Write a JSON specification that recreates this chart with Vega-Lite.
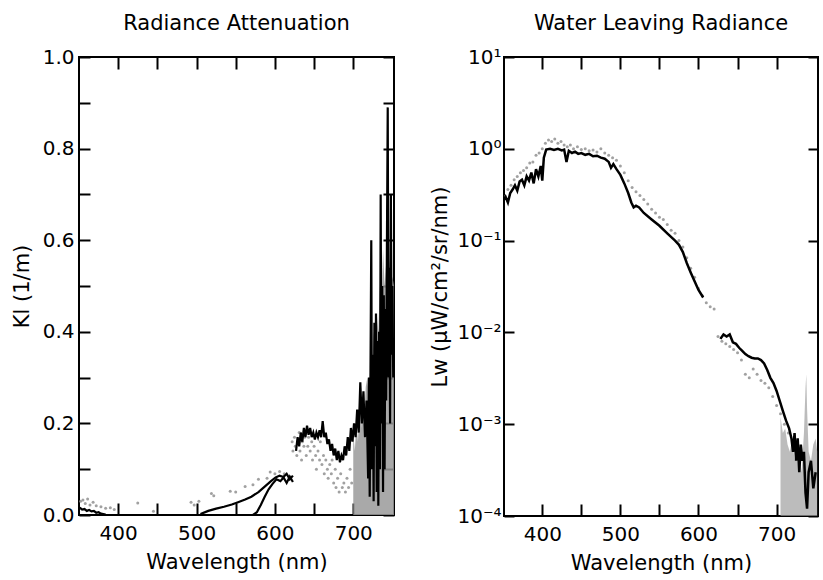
{
  "$schema": "https://vega.github.io/schema/vega-lite/v6.json",
  "background": "white",
  "padding": {"left": 10, "top": 12, "right": 0, "bottom": 0},
  "spacing": 32,
  "datasets": {
    "kl_lines": [
      {"s":"A","wl":505,"v":0.002},{"s":"A","wl":515,"v":0.009},{"s":"A","wl":525,"v":0.014},{"s":"A","wl":535,"v":0.018},{"s":"A","wl":545,"v":0.023},{"s":"A","wl":553,"v":0.028},{"s":"A","wl":562,"v":0.034},{"s":"A","wl":570,"v":0.04},{"s":"A","wl":579,"v":0.05},{"s":"A","wl":587,"v":0.062},{"s":"A","wl":595,"v":0.074},{"s":"A","wl":601,"v":0.082},{"s":"A","wl":606,"v":0.086},{"s":"A","wl":611,"v":0.083},{"s":"A","wl":615,"v":0.09},{"s":"A","wl":619,"v":0.078},{"s":"A","wl":623,"v":0.086},
      {"s":"B","wl":572,"v":0},{"s":"B","wl":577,"v":0.006},{"s":"B","wl":582,"v":0.022},{"s":"B","wl":587,"v":0.04},{"s":"B","wl":592,"v":0.056},{"s":"B","wl":597,"v":0.068},{"s":"B","wl":602,"v":0.078},{"s":"B","wl":607,"v":0.074},{"s":"B","wl":611,"v":0.082},{"s":"B","wl":615,"v":0.07},{"s":"B","wl":619,"v":0.084},{"s":"B","wl":623,"v":0.072},
      {"s":"C","wl":351,"v":0.016},{"s":"C","wl":354,"v":0.012},{"s":"C","wl":357,"v":0.013},{"s":"C","wl":360,"v":0.009},{"s":"C","wl":363,"v":0.011},{"s":"C","wl":366,"v":0.008},{"s":"C","wl":369,"v":0.009},{"s":"C","wl":372,"v":0.005},{"s":"C","wl":375,"v":0.006},{"s":"C","wl":378,"v":0.003},{"s":"C","wl":381,"v":0.002},{"s":"C","wl":384,"v":0.001},
      {"s":"D","wl":627,"v":0.14},{"s":"D","wl":629,"v":0.17},{"s":"D","wl":631,"v":0.15},{"s":"D","wl":633,"v":0.18},{"s":"D","wl":635,"v":0.16},{"s":"D","wl":637,"v":0.19},{"s":"D","wl":639,"v":0.17},{"s":"D","wl":641,"v":0.195},{"s":"D","wl":643,"v":0.175},{"s":"D","wl":645,"v":0.19},{"s":"D","wl":647,"v":0.17},{"s":"D","wl":649,"v":0.18},{"s":"D","wl":651,"v":0.165},{"s":"D","wl":653,"v":0.18},{"s":"D","wl":655,"v":0.17},{"s":"D","wl":657,"v":0.185},{"s":"D","wl":659,"v":0.17},{"s":"D","wl":661,"v":0.205},{"s":"D","wl":663,"v":0.17},{"s":"D","wl":665,"v":0.18},{"s":"D","wl":667,"v":0.155},{"s":"D","wl":669,"v":0.165},{"s":"D","wl":671,"v":0.14},{"s":"D","wl":673,"v":0.155},{"s":"D","wl":675,"v":0.13},{"s":"D","wl":677,"v":0.145},{"s":"D","wl":679,"v":0.12},{"s":"D","wl":681,"v":0.14},{"s":"D","wl":683,"v":0.115},{"s":"D","wl":685,"v":0.13},{"s":"D","wl":687,"v":0.12},{"s":"D","wl":689,"v":0.15},{"s":"D","wl":691,"v":0.13},{"s":"D","wl":693,"v":0.17},{"s":"D","wl":695,"v":0.14},{"s":"D","wl":697,"v":0.19},{"s":"D","wl":699,"v":0.16},{"s":"D","wl":701,"v":0.2},{"s":"D","wl":703,"v":0.17},{"s":"D","wl":705,"v":0.23},{"s":"D","wl":707,"v":0.18},{"s":"D","wl":709,"v":0.29},{"s":"D","wl":711,"v":0.2},{"s":"D","wl":713,"v":0.27},{"s":"D","wl":715,"v":0.17},{"s":"D","wl":717,"v":0.25},{"s":"D","wl":719,"v":0.08},{"s":"D","wl":720,"v":0.3},{"s":"D","wl":721,"v":0.04},{"s":"D","wl":723,"v":0.6},{"s":"D","wl":724,"v":0.1},{"s":"D","wl":725,"v":0.35},{"s":"D","wl":726,"v":0.03},{"s":"D","wl":727,"v":0.42},{"s":"D","wl":728,"v":0.15},{"s":"D","wl":729,"v":0.44},{"s":"D","wl":730,"v":0.05},{"s":"D","wl":731,"v":0.38},{"s":"D","wl":732,"v":0.02},{"s":"D","wl":733,"v":0.4},{"s":"D","wl":734,"v":0.1},{"s":"D","wl":735,"v":0.7},{"s":"D","wl":736,"v":0.2},{"s":"D","wl":737,"v":0.5},{"s":"D","wl":738,"v":0.05},{"s":"D","wl":739,"v":0.48},{"s":"D","wl":740,"v":0.1},{"s":"D","wl":741,"v":0.45},{"s":"D","wl":742,"v":0.25},{"s":"D","wl":743,"v":0.6},{"s":"D","wl":744,"v":0.89},{"s":"D","wl":745,"v":0.3},{"s":"D","wl":746,"v":0.54},{"s":"D","wl":747,"v":0.2},{"s":"D","wl":748,"v":0.7},{"s":"D","wl":749,"v":0.35},{"s":"D","wl":750,"v":0.5},{"s":"D","wl":751,"v":0.3}
    ],
    "kl_dots": [
      {"wl":352,"v":0.03},{"wl":355,"v":0.033},{"wl":358,"v":0.025},{"wl":361,"v":0.035},{"wl":364,"v":0.022},{"wl":368,"v":0.028},{"wl":372,"v":0.02},{"wl":378,"v":0.018},{"wl":384,"v":0.015},{"wl":390,"v":0.016},{"wl":395,"v":0.012},{"wl":425,"v":0.026},{"wl":445,"v":0.008},{"wl":493,"v":0.028},{"wl":497,"v":0.022},{"wl":503,"v":0.03},{"wl":519,"v":0.047},{"wl":522,"v":0.042},{"wl":543,"v":0.052},{"wl":550,"v":0.05},{"wl":562,"v":0.062},{"wl":572,"v":0.066},{"wl":579,"v":0.078},{"wl":590,"v":0.08},{"wl":594,"v":0.094},{"wl":600,"v":0.09},{"wl":606,"v":0.095},{"wl":612,"v":0.09},
      {"wl":622,"v":0.16},{"wl":623,"v":0.14},{"wl":625,"v":0.17},{"wl":626,"v":0.15},{"wl":628,"v":0.13},{"wl":629,"v":0.16},{"wl":631,"v":0.18},{"wl":632,"v":0.14},{"wl":634,"v":0.12},{"wl":635,"v":0.16},{"wl":637,"v":0.15},{"wl":638,"v":0.17},{"wl":640,"v":0.13},{"wl":642,"v":0.15},{"wl":643,"v":0.17},{"wl":645,"v":0.14},{"wl":647,"v":0.16},{"wl":648,"v":0.12},{"wl":650,"v":0.15},{"wl":652,"v":0.13},{"wl":653,"v":0.1},{"wl":655,"v":0.14},{"wl":657,"v":0.12},{"wl":658,"v":0.16},{"wl":660,"v":0.11},{"wl":662,"v":0.13},{"wl":663,"v":0.09},{"wl":665,"v":0.12},{"wl":667,"v":0.1},{"wl":668,"v":0.08},{"wl":670,"v":0.11},{"wl":672,"v":0.09},{"wl":673,"v":0.12},{"wl":675,"v":0.07},{"wl":677,"v":0.1},{"wl":678,"v":0.06},{"wl":680,"v":0.08},{"wl":682,"v":0.05},{"wl":684,"v":0.09},{"wl":686,"v":0.06},{"wl":688,"v":0.07},{"wl":690,"v":0.05},{"wl":692,"v":0.08},{"wl":694,"v":0.06},{"wl":696,"v":0.1},{"wl":698,"v":0.07}
    ],
    "kl_band": [
      {"wl":700,"v":0.18},{"wl":702,"v":0.14},{"wl":704,"v":0.2},{"wl":706,"v":0.16},{"wl":708,"v":0.24},{"wl":710,"v":0.19},{"wl":712,"v":0.27},{"wl":714,"v":0.21},{"wl":716,"v":0.28},{"wl":718,"v":0.3},{"wl":720,"v":0.25},{"wl":722,"v":0.34},{"wl":724,"v":0.3},{"wl":726,"v":0.4},{"wl":728,"v":0.36},{"wl":730,"v":0.44},{"wl":732,"v":0.4},{"wl":734,"v":0.5},{"wl":736,"v":0.44},{"wl":738,"v":0.58},{"wl":740,"v":0.5},{"wl":742,"v":0.55},{"wl":744,"v":0.48},{"wl":746,"v":0.56},{"wl":748,"v":0.5},{"wl":750,"v":0.52},{"wl":752,"v":0.5}
    ],
    "lw_lines": [
      {"s":"a","wl":350,"v":0.27},{"s":"a","wl":353,"v":0.3},{"s":"a","wl":356,"v":0.26},{"s":"a","wl":359,"v":0.33},{"s":"a","wl":362,"v":0.36},{"s":"a","wl":365,"v":0.4},{"s":"a","wl":368,"v":0.35},{"s":"a","wl":371,"v":0.44},{"s":"a","wl":374,"v":0.46},{"s":"a","wl":377,"v":0.4},{"s":"a","wl":380,"v":0.5},{"s":"a","wl":383,"v":0.45},{"s":"a","wl":386,"v":0.55},{"s":"a","wl":389,"v":0.42},{"s":"a","wl":392,"v":0.6},{"s":"a","wl":395,"v":0.5},{"s":"a","wl":398,"v":0.65},{"s":"a","wl":400,"v":0.45},{"s":"a","wl":402,"v":0.8},{"s":"a","wl":405,"v":0.98},{"s":"a","wl":410,"v":1.0},{"s":"a","wl":415,"v":0.97},{"s":"a","wl":420,"v":1.0},{"s":"a","wl":425,"v":0.96},{"s":"a","wl":428,"v":0.98},{"s":"a","wl":431,"v":0.72},{"s":"a","wl":434,"v":0.95},{"s":"a","wl":438,"v":0.9},{"s":"a","wl":442,"v":0.93},{"s":"a","wl":446,"v":0.88},{"s":"a","wl":450,"v":0.9},{"s":"a","wl":455,"v":0.86},{"s":"a","wl":460,"v":0.88},{"s":"a","wl":465,"v":0.83},{"s":"a","wl":470,"v":0.84},{"s":"a","wl":475,"v":0.8},{"s":"a","wl":480,"v":0.78},{"s":"a","wl":485,"v":0.72},{"s":"a","wl":488,"v":0.62},{"s":"a","wl":491,"v":0.68},{"s":"a","wl":495,"v":0.6},{"s":"a","wl":500,"v":0.52},{"s":"a","wl":505,"v":0.42},{"s":"a","wl":510,"v":0.33},{"s":"a","wl":514,"v":0.26},{"s":"a","wl":517,"v":0.23},{"s":"a","wl":520,"v":0.24},{"s":"a","wl":524,"v":0.23},{"s":"a","wl":530,"v":0.2},{"s":"a","wl":540,"v":0.17},{"s":"a","wl":550,"v":0.145},{"s":"a","wl":560,"v":0.12},{"s":"a","wl":570,"v":0.1},{"s":"a","wl":575,"v":0.09},{"s":"a","wl":580,"v":0.075},{"s":"a","wl":585,"v":0.057},{"s":"a","wl":590,"v":0.045},{"s":"a","wl":595,"v":0.036},{"s":"a","wl":600,"v":0.029},{"s":"a","wl":606,"v":0.024},
      {"s":"b","wl":628,"v":0.0085},{"s":"b","wl":632,"v":0.0095},{"s":"b","wl":636,"v":0.009},{"s":"b","wl":640,"v":0.0095},{"s":"b","wl":644,"v":0.0078},{"s":"b","wl":648,"v":0.0075},{"s":"b","wl":652,"v":0.0068},{"s":"b","wl":656,"v":0.0063},{"s":"b","wl":660,"v":0.0058},{"s":"b","wl":664,"v":0.0055},{"s":"b","wl":668,"v":0.0053},{"s":"b","wl":672,"v":0.0052},{"s":"b","wl":676,"v":0.0052},{"s":"b","wl":680,"v":0.005},{"s":"b","wl":684,"v":0.0046},{"s":"b","wl":688,"v":0.0039},{"s":"b","wl":692,"v":0.0032},{"s":"b","wl":696,"v":0.0028},{"s":"b","wl":700,"v":0.0023},{"s":"b","wl":704,"v":0.0018},{"s":"b","wl":708,"v":0.0014},{"s":"b","wl":712,"v":0.0011},{"s":"b","wl":716,"v":0.0009},{"s":"b","wl":719,"v":0.0007},{"s":"b","wl":721,"v":0.0005},{"s":"b","wl":723,"v":0.0008},{"s":"b","wl":725,"v":0.0004},{"s":"b","wl":727,"v":0.0007},{"s":"b","wl":729,"v":0.0003},{"s":"b","wl":731,"v":0.0006},{"s":"b","wl":733,"v":0.0004},{"s":"b","wl":735,"v":0.0005},{"s":"b","wl":737,"v":0.00018},{"s":"b","wl":739,"v":0.00012},{"s":"b","wl":741,"v":0.0003},{"s":"b","wl":744,"v":0.0004},{"s":"b","wl":747,"v":0.0002},{"s":"b","wl":750,"v":0.0003}
    ],
    "lw_dots": [
      {"wl":352,"v":0.3},{"wl":356,"v":0.36},{"wl":360,"v":0.4},{"wl":364,"v":0.46},{"wl":368,"v":0.5},{"wl":372,"v":0.55},{"wl":376,"v":0.58},{"wl":380,"v":0.62},{"wl":384,"v":0.7},{"wl":388,"v":0.72},{"wl":392,"v":0.85},{"wl":396,"v":0.9},{"wl":400,"v":1.0},{"wl":404,"v":1.15},{"wl":408,"v":1.25},{"wl":412,"v":1.2},{"wl":416,"v":1.28},{"wl":420,"v":1.15},{"wl":424,"v":1.2},{"wl":428,"v":1.1},{"wl":432,"v":1.05},{"wl":436,"v":1.1},{"wl":440,"v":1.0},{"wl":445,"v":1.05},{"wl":450,"v":0.98},{"wl":455,"v":1.0},{"wl":460,"v":0.95},{"wl":465,"v":0.97},{"wl":470,"v":0.92},{"wl":475,"v":1.0},{"wl":480,"v":0.9},{"wl":485,"v":0.85},{"wl":490,"v":0.8},{"wl":495,"v":0.75},{"wl":500,"v":0.65},{"wl":505,"v":0.55},{"wl":510,"v":0.45},{"wl":515,"v":0.38},{"wl":520,"v":0.34},{"wl":525,"v":0.31},{"wl":530,"v":0.28},{"wl":535,"v":0.25},{"wl":540,"v":0.22},{"wl":545,"v":0.2},{"wl":550,"v":0.18},{"wl":555,"v":0.17},{"wl":560,"v":0.15},{"wl":565,"v":0.13},{"wl":570,"v":0.12},{"wl":575,"v":0.1},{"wl":580,"v":0.085},{"wl":585,"v":0.065},{"wl":590,"v":0.05},{"wl":595,"v":0.04},{"wl":600,"v":0.03},{"wl":605,"v":0.025},{"wl":610,"v":0.021},{"wl":615,"v":0.019},{"wl":620,"v":0.018},{"wl":625,"v":0.009},{"wl":630,"v":0.008},{"wl":635,"v":0.0075},{"wl":640,"v":0.007},{"wl":645,"v":0.0065},{"wl":650,"v":0.006},{"wl":655,"v":0.005},{"wl":660,"v":0.0035},{"wl":665,"v":0.0032},{"wl":670,"v":0.004},{"wl":675,"v":0.0035},{"wl":680,"v":0.003},{"wl":685,"v":0.0028},{"wl":690,"v":0.0025},{"wl":695,"v":0.002},{"wl":700,"v":0.0016},{"wl":705,"v":0.0013},{"wl":710,"v":0.001},{"wl":715,"v":0.0008}
    ],
    "lw_band": [
      {"wl":705,"v":0.0012},{"wl":708,"v":0.0008},{"wl":711,"v":0.0009},{"wl":714,"v":0.0006},{"wl":717,"v":0.0005},{"wl":720,"v":0.0007},{"wl":723,"v":0.0004},{"wl":726,"v":0.0006},{"wl":729,"v":0.0005},{"wl":732,"v":0.0003},{"wl":735,"v":0.0008},{"wl":737,"v":0.0025},{"wl":738,"v":0.0035},{"wl":739,"v":0.0015},{"wl":741,"v":0.0005},{"wl":744,"v":0.0004},{"wl":747,"v":0.0006},{"wl":750,"v":0.0007},{"wl":752,"v":0.0005}
    ]
  },
  "hconcat": [
    {
      "width": 315,
      "height": 458,
      "title": {"text": "Radiance Attenuation"},
      "resolve": {"axis": {"x": "independent", "y": "independent"}},
      "layer": [
        {
          "data": {"name": "kl_band"},
          "mark": {"type": "area", "color": "#9a9a9a", "opacity": 0.85, "clip": true},
          "encoding": {
            "x": {"field": "wl", "type": "quantitative", "scale": {"domain": [350, 752], "nice": false, "zero": false},
              "axis": {"orient": "bottom", "title": "Wavelength (nm)", "values": [400,450,500,550,600,650,700], "labelExpr": "datum.value % 100 == 0 ? datum.label : ''", "tickSize": -12, "labelPadding": 20, "titlePadding": 8, "labelFlush": false, "labelOverlap": false}},
            "y": {"field": "v", "type": "quantitative", "scale": {"domain": [0, 1], "nice": false},
              "axis": {"orient": "left", "title": "Kl (1/m)", "values": [0,0.1,0.2,0.3,0.4,0.5,0.6,0.7,0.8,0.9,1.0], "labelExpr": "round(datum.value*10) % 2 == 0 ? format(datum.value, '.1f') : ''", "tickSize": -11, "labelPadding": 16, "titlePadding": 10, "labelOverlap": false}},
            "y2": {"datum": 0}
          }
        },
        {
          "data": {"name": "kl_dots"},
          "mark": {"type": "circle", "color": "#8a8a8a", "size": 9, "opacity": 0.8, "clip": true},
          "encoding": {
            "x": {"field": "wl", "type": "quantitative",
              "axis": {"orient": "top", "title": null, "labels": false, "values": [400,450,500,550,600,650,700], "tickSize": -12}},
            "y": {"field": "v", "type": "quantitative",
              "axis": {"orient": "right", "title": null, "labels": false, "values": [0,0.1,0.2,0.3,0.4,0.5,0.6,0.7,0.8,0.9,1.0], "tickSize": -11}}
          }
        },
        {
          "data": {"name": "kl_lines"},
          "mark": {"type": "line", "color": "black", "strokeWidth": 2.2, "clip": true},
          "encoding": {
            "x": {"field": "wl", "type": "quantitative", "axis": null},
            "y": {"field": "v", "type": "quantitative", "axis": null},
            "detail": {"field": "s"}
          }
        }
      ]
    },
    {
      "width": 314,
      "height": 459,
      "title": {"text": "Water Leaving Radiance"},
      "resolve": {"axis": {"x": "independent", "y": "independent"}},
      "layer": [
        {
          "data": {"name": "lw_band"},
          "mark": {"type": "area", "color": "#a0a0a0", "opacity": 0.7, "clip": true},
          "encoding": {
            "x": {"field": "wl", "type": "quantitative", "scale": {"domain": [351, 753], "nice": false, "zero": false},
              "axis": {"orient": "bottom", "title": "Wavelength (nm)", "values": [400,450,500,550,600,650,700], "labelExpr": "datum.value % 100 == 0 ? datum.label : ''", "tickSize": -12, "labelPadding": 20, "titlePadding": 8, "labelFlush": false, "labelOverlap": false}},
            "y": {"field": "v", "type": "quantitative", "scale": {"type": "log", "domain": [0.0001, 10], "nice": false},
              "axis": {"orient": "left", "title": "Lw (µW/cm²/sr/nm)", "values": [0.0001,0.001,0.01,0.1,1,10], "labelExpr": "datum.value >= 5 ? '10¹' : datum.value >= 0.5 ? '10⁰' : datum.value >= 0.05 ? '10⁻¹' : datum.value >= 0.005 ? '10⁻²' : datum.value >= 0.0005 ? '10⁻³' : '10⁻⁴'", "tickSize": -10, "labelPadding": 13, "titlePadding": 6, "labelOverlap": false}},
            "y2": {"datum": 0.0001}
          }
        },
        {
          "data": {"name": "lw_dots"},
          "mark": {"type": "circle", "color": "#8a8a8a", "size": 9, "opacity": 0.8, "clip": true},
          "encoding": {
            "x": {"field": "wl", "type": "quantitative",
              "axis": {"orient": "top", "title": null, "labels": false, "values": [400,450,500,550,600,650,700], "tickSize": -12}},
            "y": {"field": "v", "type": "quantitative",
              "axis": {"orient": "right", "title": null, "labels": false, "values": [0.0001,0.001,0.01,0.1,1,10], "tickSize": -10}}
          }
        },
        {
          "data": {"name": "lw_lines"},
          "mark": {"type": "line", "color": "black", "strokeWidth": 2.5, "clip": true},
          "encoding": {
            "x": {"field": "wl", "type": "quantitative", "axis": null},
            "y": {"field": "v", "type": "quantitative", "axis": null},
            "detail": {"field": "s"}
          }
        }
      ]
    }
  ],
  "config": {
    "view": {"stroke": "black", "strokeWidth": 2},
    "axis": {"domain": false, "grid": false, "labelFont": "DejaVu Sans", "labelFontSize": 20, "labelColor": "black", "titleFont": "DejaVu Sans", "titleFontSize": 21, "titleFontWeight": "normal", "titleColor": "black", "tickColor": "black", "tickWidth": 2},
    "title": {"font": "DejaVu Sans", "fontSize": 21, "fontWeight": "normal", "color": "black", "offset": 13, "baseline": "alphabetic", "anchor": "middle"}
  }
}
